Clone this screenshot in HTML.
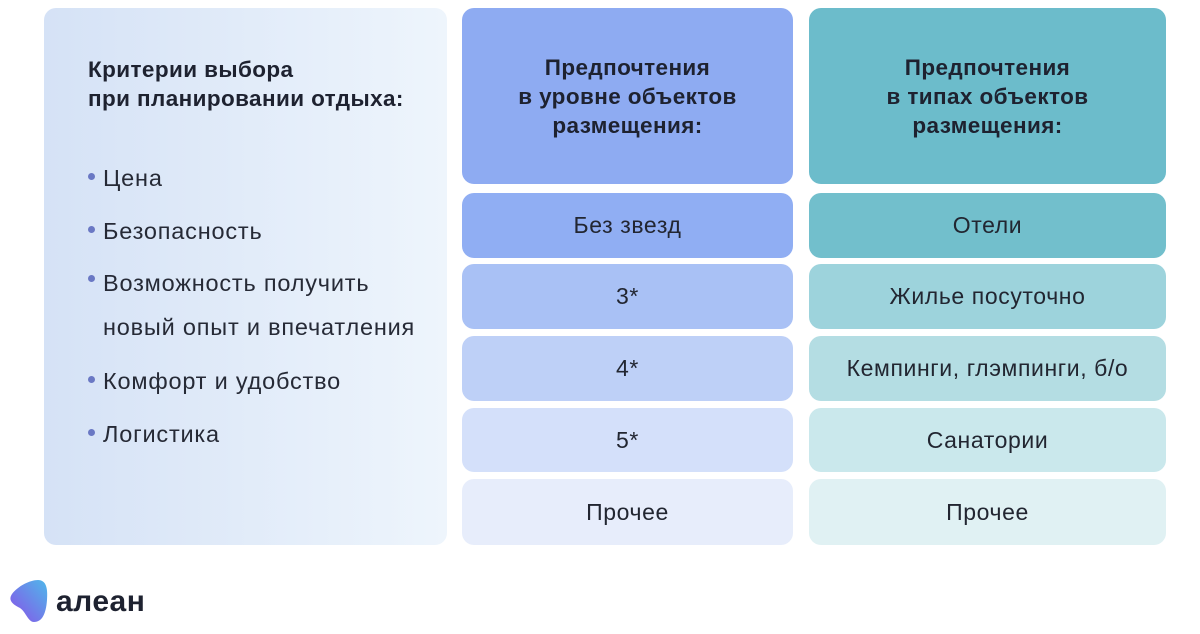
<!DOCTYPE html>
<html><head><meta charset="utf-8"><style>
body{margin:0;width:1200px;height:634px;background:#fff;position:relative;font-family:"Liberation Sans",sans-serif;color:#222631;overflow:hidden}
.b{position:absolute;border-radius:12px;display:flex;align-items:center;justify-content:center;font-size:23px;letter-spacing:0.6px;text-align:center}
.h{font-weight:bold;font-size:22.5px;line-height:29px;color:#1e2230;letter-spacing:0.4px}
#left{position:absolute;left:44px;top:8px;width:403px;height:537px;border-radius:12px;background:linear-gradient(90deg,#d5e2f6,#eef5fc)}
.t{position:absolute;left:88px;top:55px;font-weight:bold;font-size:22.5px;line-height:29px;color:#1e2230;letter-spacing:0.4px}
.li{position:absolute;left:103px;font-size:23.5px;letter-spacing:0.8px;color:#262a36;line-height:26px}
.li:before{content:"";position:absolute;left:-15px;top:8px;width:7px;height:7px;border-radius:50%;background:#6a78c4}
.li.m:before{top:14px}
</style></head><body>
<div id="left"></div>
<div class="t">Критерии выбора<br>при планировании отдыха:</div>
<div class="li" style="top:165px">Цена</div>
<div class="li" style="top:218px">Безопасность</div>
<div class="li m" style="top:261px;line-height:44px">Возможность получить<br>новый опыт и впечатления</div>
<div class="li" style="top:368px">Комфорт и удобство</div>
<div class="li" style="top:421px">Логистика</div>

<div class="b h" style="left:462px;top:8px;width:331px;height:176px;background:#8eabf2">Предпочтения<br>в уровне объектов<br>размещения:</div>
<div class="b" style="left:462px;top:193px;width:331px;height:65px;background:#90aef3">Без звезд</div>
<div class="b" style="left:462px;top:264px;width:331px;height:65px;background:#a9c1f5">3*</div>
<div class="b" style="left:462px;top:336px;width:331px;height:65px;background:#bed0f7">4*</div>
<div class="b" style="left:462px;top:408px;width:331px;height:64px;background:#d4e0fa">5*</div>
<div class="b" style="left:462px;top:479px;width:331px;height:66px;background:#e7edfb">Прочее</div>

<div class="b h" style="left:809px;top:8px;width:357px;height:176px;background:#6cbccb">Предпочтения<br>в типах объектов<br>размещения:</div>
<div class="b" style="left:809px;top:193px;width:357px;height:65px;background:#72bfcc">Отели</div>
<div class="b" style="left:809px;top:264px;width:357px;height:65px;background:#9dd3dc">Жилье посуточно</div>
<div class="b" style="left:809px;top:336px;width:357px;height:65px;background:#b4dde3">Кемпинги, глэмпинги, б/о</div>
<div class="b" style="left:809px;top:408px;width:357px;height:64px;background:#cae8ec">Санатории</div>
<div class="b" style="left:809px;top:479px;width:357px;height:66px;background:#e0f1f3">Прочее</div>

<svg style="position:absolute;left:8px;top:578px" width="42" height="46" viewBox="0 0 42 46"><defs><linearGradient id="g" x1="1" y1="0" x2="0" y2="1"><stop offset="0" stop-color="#4fb8ea"/><stop offset="1" stop-color="#8a4fe8"/></linearGradient></defs><path d="M30 2 C38 2 40 10 39 22 C38 36 34 44 26 44 C20 44 18 34 12 30 C4 26 0 22 4 16 C10 8 22 2 30 2Z" fill="url(#g)"/></svg>
<div style="position:absolute;left:56px;top:585px;font-size:30px;font-weight:bold;color:#1e2230;letter-spacing:0.5px">алеан</div>
</body></html>
